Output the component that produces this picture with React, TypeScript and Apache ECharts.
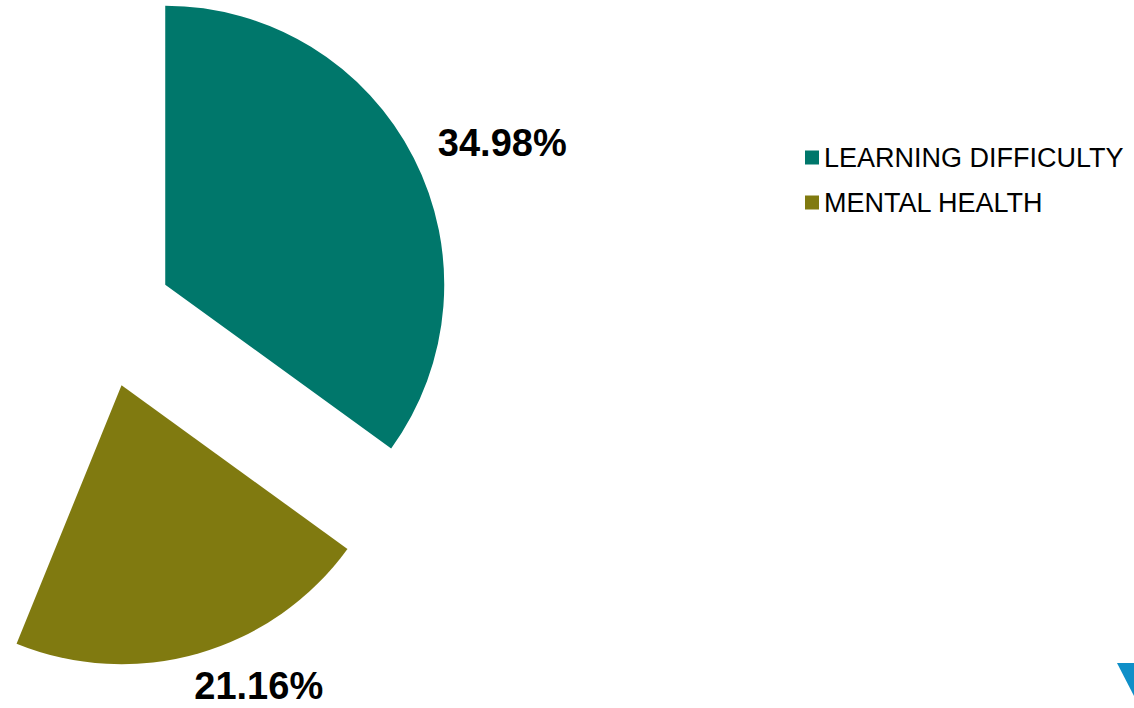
import React, { useEffect, useRef } from "react";
import * as echarts from "echarts";

const categories = ["LEARNING DIFFICULTY", "MENTAL HEALTH", "OTHER"];
const values = [34.98, 21.16, 43.86];
const colors = ["#00776B", "#807A10", "transparent"];
const visibleInLegend = ["LEARNING DIFFICULTY", "MENTAL HEALTH"];

const FONT = "'Liberation Sans', Arial, sans-serif";
const labelNudges = [[-13, 1], [-19, -2], [0, 0]];

export default function App() {
  const ref = useRef<HTMLDivElement>(null);

  useEffect(() => {
    if (!ref.current) return;
    const chart = echarts.init(ref.current, null, { renderer: "svg" });
    const data = categories.map((name, i) => {
      const hidden = i === 2;
      return {
        name,
        value: values[i],
        selected: !hidden,
        itemStyle: { color: colors[i] },
        label: hidden ? { show: false } : undefined,
        labelLine: { show: false },
      };
    });
    chart.setOption({
      animation: false,
      backgroundColor: "#ffffff",
      legend: {
        data: visibleInLegend,
        orient: "vertical",
        left: 800,
        top: 139,
        icon: "rect",
        itemWidth: 14,
        itemHeight: 14,
        itemGap: 18,
        selectedMode: false,
        textStyle: { fontFamily: FONT, fontSize: 27, color: "#000000" },
      },
      series: [
        {
          type: "pie",
          center: [102, 317],
          radius: [0, 279],
          startAngle: 90,
          clockwise: true,
          selectedMode: "multiple",
          selectedOffset: 71,
          avoidLabelOverlap: false,
          emphasis: { disabled: true },
          label: {
            show: true,
            position: "outside",
            formatter: (p: any) => p.value.toFixed(2) + "%",
            fontFamily: FONT,
            fontSize: 38,
            fontWeight: "bold",
            color: "#000000",
          },
          labelLine: { show: false, length: 36, length2: 0 },
          labelLayout: (p: any) => {
            const n = labelNudges[p.dataIndex] || [0, 0];
            return { dx: n[0], dy: n[1] };
          },
          data,
        },
      ],
      graphic: [
        {
          type: "polygon",
          shape: { points: [[1117, 663], [1134, 663], [1134, 696]] },
          style: { fill: "#0F8FC8" },
        },
      ],
    });
    return () => chart.dispose();
  }, []);

  return (
    <div
      ref={ref}
      style={{ position: "absolute", left: 0, top: 0, width: 1134, height: 708 }}
    />
  );
}
